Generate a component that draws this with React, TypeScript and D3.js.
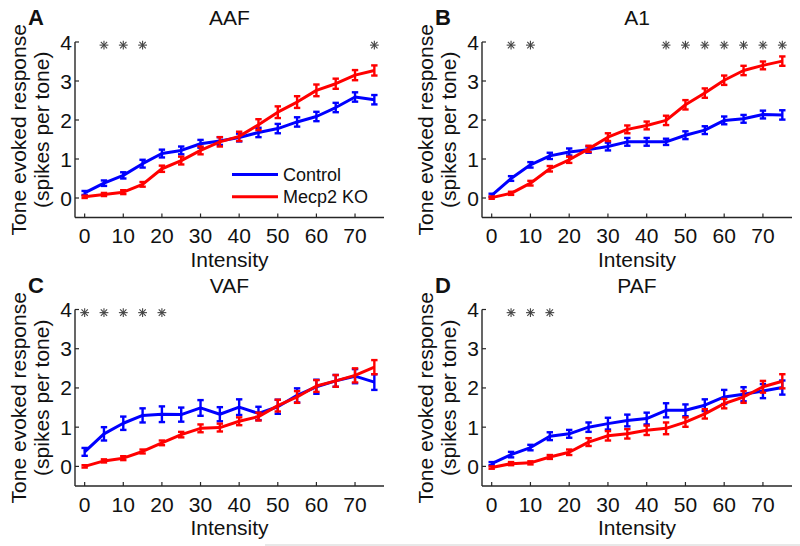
import React from "react";
import * as d3 from "d3";

const intensities = [0, 5, 10, 15, 20, 25, 30, 35, 40, 45, 50, 55, 60, 65, 70, 75];
const xTicks = [0, 10, 20, 30, 40, 50, 60, 70];
const yTicks = [0, 1, 2, 3, 4];
const panelTitles = ["AAF", "A1", "VAF", "PAF"];
const panelLetters = ["A", "B", "C", "D"];
const seriesNames = ["Control", "Mecp2 KO"];

// Control (blue)
const controlAAF = [0.13, 0.38, 0.58, 0.88, 1.14, 1.22, 1.39, 1.46, 1.55, 1.68, 1.78, 1.95, 2.09, 2.32, 2.59, 2.52];
const controlA1 = [0.07, 0.5, 0.85, 1.08, 1.18, 1.24, 1.32, 1.44, 1.44, 1.44, 1.61, 1.74, 1.99, 2.03, 2.14, 2.13];
const controlVAF = [0.37, 0.83, 1.1, 1.3, 1.33, 1.32, 1.49, 1.33, 1.51, 1.35, 1.52, 1.81, 2.03, 2.18, 2.3, 2.15];
const controlPAF = [0.07, 0.3, 0.48, 0.77, 0.83, 1.0, 1.09, 1.17, 1.22, 1.43, 1.43, 1.56, 1.77, 1.84, 1.92, 2.01];

// Mecp2 KO (red)
const koAAF = [0.03, 0.09, 0.15, 0.35, 0.75, 0.96, 1.22, 1.44, 1.58, 1.88, 2.2, 2.46, 2.76, 2.93, 3.15, 3.27];
const koA1 = [0.01, 0.12, 0.38, 0.75, 0.98, 1.26, 1.56, 1.76, 1.86, 1.99, 2.39, 2.69, 3.02, 3.27, 3.4, 3.51];
const koVAF = [0.0, 0.14, 0.21, 0.38, 0.6, 0.81, 0.97, 0.99, 1.15, 1.27, 1.55, 1.77, 2.05, 2.18, 2.32, 2.53];
const koPAF = [-0.03, 0.07, 0.09, 0.24, 0.36, 0.62, 0.78, 0.83, 0.92, 0.97, 1.13, 1.34, 1.6, 1.77, 2.03, 2.17];

// Standard errors
const controlErrAAF = [0.05, 0.07, 0.08, 0.1, 0.1, 0.1, 0.1, 0.1, 0.1, 0.12, 0.12, 0.12, 0.12, 0.12, 0.12, 0.12];
const controlErrA1 = [0.04, 0.06, 0.07, 0.08, 0.09, 0.08, 0.1, 0.1, 0.1, 0.08, 0.1, 0.1, 0.1, 0.1, 0.1, 0.12];
const controlErrVAF = [0.1, 0.17, 0.17, 0.18, 0.2, 0.18, 0.2, 0.18, 0.2, 0.17, 0.18, 0.18, 0.18, 0.15, 0.18, 0.2];
const controlErrPAF = [0.04, 0.07, 0.07, 0.1, 0.1, 0.12, 0.15, 0.15, 0.15, 0.18, 0.15, 0.15, 0.18, 0.18, 0.18, 0.18];
const koErrAAF = [0.03, 0.04, 0.05, 0.06, 0.08, 0.1, 0.1, 0.12, 0.12, 0.14, 0.15, 0.15, 0.15, 0.13, 0.13, 0.13];
const koErrA1 = [0.03, 0.04, 0.06, 0.07, 0.08, 0.08, 0.1, 0.1, 0.1, 0.12, 0.12, 0.12, 0.12, 0.12, 0.1, 0.12];
const koErrVAF = [0.03, 0.04, 0.05, 0.05, 0.06, 0.07, 0.1, 0.1, 0.1, 0.1, 0.15, 0.15, 0.15, 0.15, 0.18, 0.18];
const koErrPAF = [0.03, 0.04, 0.04, 0.05, 0.07, 0.1, 0.12, 0.12, 0.12, 0.15, 0.12, 0.12, 0.12, 0.15, 0.15, 0.18];

// Significance stars (intensities)
const starsAAF = [5, 10, 15, 75];
const starsA1 = [5, 10, 45, 50, 55, 60, 65, 70, 75];
const starsVAF = [0, 5, 10, 15, 20];
const starsPAF = [5, 10, 15];
const starLevel = 3.92;

const panelData = [
  { c: controlAAF, k: koAAF, ce: controlErrAAF, ke: koErrAAF, stars: starsAAF },
  { c: controlA1, k: koA1, ce: controlErrA1, ke: koErrA1, stars: starsA1 },
  { c: controlVAF, k: koVAF, ce: controlErrVAF, ke: koErrVAF, stars: starsVAF },
  { c: controlPAF, k: koPAF, ce: controlErrPAF, ke: koErrPAF, stars: starsPAF },
];

const layout = [
  { left: 75, right: 384, top: 42, bottom: 217.5 },
  { left: 482, right: 792, top: 42, bottom: 217.5 },
  { left: 75, right: 384, top: 309.5, bottom: 486 },
  { left: 482, right: 792, top: 309.5, bottom: 486 },
];

const FONT = "'Liberation Sans', Arial, Helvetica, sans-serif";
const BLUE = "#0000ff";
const RED = "#ff0000";
const AXIS = "#262626";

function Star({ x, y }: { x: number; y: number }) {
  const r = 4.4;
  const d = r * 0.72;
  return (
    <g stroke="#444" strokeWidth={1.1}>
      <line x1={x - r} y1={y} x2={x + r} y2={y} />
      <line x1={x} y1={y - r} x2={x} y2={y + r} />
      <line x1={x - d} y1={y - d} x2={x + d} y2={y + d} />
      <line x1={x - d} y1={y + d} x2={x + d} y2={y - d} />
    </g>
  );
}

function Series({ vals, errs, color, x, y }: any) {
  const line = d3
    .line<number>()
    .x((_, i) => x(intensities[i]))
    .y((v) => y(v));
  const cap = 3.2;
  return (
    <g>
      <path d={line(vals) || ""} fill="none" stroke={color} strokeWidth={3} strokeLinejoin="round" />
      {vals.map((v: number, i: number) => {
        const xi = x(intensities[i]);
        const y1 = y(v - errs[i]);
        const y2 = y(v + errs[i]);
        return (
          <g key={i} stroke={color} strokeWidth={2.4}>
            <line x1={xi} x2={xi} y1={y1} y2={y2} />
            <line x1={xi - cap} x2={xi + cap} y1={y1} y2={y1} />
            <line x1={xi - cap} x2={xi + cap} y1={y2} y2={y2} />
          </g>
        );
      })}
    </g>
  );
}

function Panel({ idx }: { idx: number }) {
  const L = layout[idx];
  const P = panelData[idx];
  const x = d3.scaleLinear().domain([-2.5, 77.5]).range([L.left, L.right]);
  const y = d3.scaleLinear().domain([-0.5, 4]).range([L.bottom, L.top]);
  const cx = (L.left + L.right) / 2;
  const cy = (L.top + L.bottom) / 2;
  return (
    <g fontFamily={FONT}>
      <text x={cx} y={L.top - 17} fontSize={21} textAnchor="middle" fill="#111">
        {panelTitles[idx]}
      </text>
      <text x={L.left - 47} y={L.top - 17} fontSize={22} fontWeight="bold" fill="#111">
        {panelLetters[idx]}
      </text>
      <text
        transform={`translate(${L.left - 49},${cy}) rotate(-90)`}
        fontSize={21}
        textAnchor="middle"
        fill="#111"
      >
        Tone evoked response
      </text>
      <text
        transform={`translate(${L.left - 26},${cy}) rotate(-90)`}
        fontSize={21}
        textAnchor="middle"
        fill="#111"
      >
        (spikes per tone)
      </text>
      <line x1={L.left} x2={L.left} y1={L.top} y2={L.bottom} stroke={AXIS} strokeWidth={1.4} />
      <line x1={L.left} x2={L.right} y1={L.bottom} y2={L.bottom} stroke={AXIS} strokeWidth={1.4} />
      {yTicks.map((t) => (
        <g key={"y" + t}>
          <line x1={L.left} x2={L.left + 4} y1={y(t)} y2={y(t)} stroke={AXIS} strokeWidth={1.2} />
          <text x={L.left - 3} y={y(t) + 7.5} fontSize={21} textAnchor="end" fill="#111">
            {t}
          </text>
        </g>
      ))}
      {xTicks.map((t) => (
        <g key={"x" + t}>
          <line x1={x(t)} x2={x(t)} y1={L.bottom} y2={L.bottom - 4} stroke={AXIS} strokeWidth={1.2} />
          <text x={x(t)} y={L.bottom + 25.5} fontSize={21} textAnchor="middle" fill="#111">
            {t}
          </text>
        </g>
      ))}
      <text x={cx} y={L.bottom + 49} fontSize={21} textAnchor="middle" fill="#111">
        Intensity
      </text>
      {P.stars.map((s) => (
        <Star key={"s" + s} x={x(s)} y={y(starLevel)} />
      ))}
      <Series vals={P.c} errs={P.ce} color={BLUE} x={x} y={y} />
      <Series vals={P.k} errs={P.ke} color={RED} x={x} y={y} />
      {idx === 0 && (
        <g>
          <line x1={232} x2={278} y1={y(0.6)} y2={y(0.6)} stroke={BLUE} strokeWidth={3} />
          <text x={283} y={y(0.6) + 6.5} fontSize={18} fill="#111">
            {seriesNames[0]}
          </text>
          <line x1={232} x2={278} y1={y(0.03)} y2={y(0.03)} stroke={RED} strokeWidth={3} />
          <text x={283} y={y(0.03) + 6.5} fontSize={18} fill="#111">
            {seriesNames[1]}
          </text>
        </g>
      )}
    </g>
  );
}

export default function App() {
  return (
    <svg
      width={800}
      height={546}
      style={{ position: "absolute", left: 0, top: 0, background: "#fff" }}
    >
      <rect width={800} height={546} fill="#fff" />
      {[0, 1, 2, 3].map((i) => (
        <Panel key={i} idx={i} />
      ))}
      <line x1={265} x2={800} y1={545} y2={545} stroke="#e0e0e0" strokeWidth={1.5} />
    </svg>
  );
}
